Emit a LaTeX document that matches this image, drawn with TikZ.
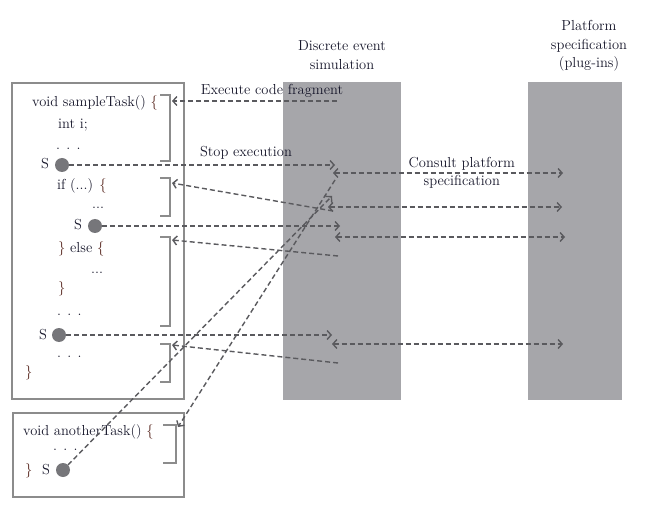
\documentclass[tikz,border=0pt]{standalone}
\usetikzlibrary{arrows.meta}

\definecolor{colgray}{HTML}{A6A6AA}
\definecolor{flowgray}{HTML}{5A5A5E}
\definecolor{dotgray}{HTML}{76767A}
\definecolor{boxgray}{HTML}{8C8C8C}
\definecolor{codeink}{HTML}{16162A}
\definecolor{braceink}{HTML}{5A2A22}

\begin{document}
\begin{tikzpicture}[x=1pt,y=-1pt]

\tikzset{
code/.style={anchor=base west,inner sep=0pt,text=codeink},
head/.style={align=center,text=codeink},
dot/.style={circle,fill=dotgray,minimum size=14pt,inner sep=0pt},
bracket/.style={draw=boxgray,line width=1.6pt},
codebox/.style={draw=boxgray,line width=1.1pt},
flow/.style={draw=flowgray,line width=1.4pt,dash pattern=on 5pt off 3pt,
  -{Straight Barb[length=4pt,width=9pt]}},
both/.style={flow,{Straight Barb[length=4pt,width=9pt]}-{Straight Barb[length=4pt,width=9pt]}},
font={\fontsize{14.5pt}{18.5pt}\selectfont}
}
\useasboundingbox (0,0) rectangle (655,510);

% columns
\fill[colgray] (283,82) rectangle (401,400);
\fill[colgray] (528,82) rectangle (622,400);
\node[head] (desname) at (342,55) {Discrete event\\simulation};
\node[head] (platname) at (589,46) {Platform\\specification\\(plug-ins)};

% code boxes
\draw[codebox] (12,83) rectangle (184,399);
\draw[codebox] (13,413) rectangle (184,497);

% sampleTask
\node[code] (l1) at (32,107) {void sampleTask() {\color{braceink}\{}};
\node[code] (l2) at (58,129) {int i;};
\node[code] (l3) at (56,150) {. . .};
\node[code] (ls1) at (41,169) {S};
\node[dot] (s1) at (62,165) {};
\node[code] (l4) at (57,190) {if (...) {\color{braceink}\{}};
\node[code] (l5) at (92,209) {...};
\node[code] (ls2) at (74,230) {S};
\node[dot] (s2) at (95,226) {};
\node[code] (l6) at (58,253) {{\color{braceink}\}} else {\color{braceink}\{}};
\node[code] (l7) at (91,273) {...};
\node[code] (l8) at (58,293) {{\color{braceink}\}}};
\node[code] (l9) at (57,315) {. . .};
\node[code] (ls3) at (39,339) {S};
\node[dot] (s3) at (59,335) {};
\node[code] (l10) at (57,357) {. . .};
\node[code] (l11) at (25,376) {{\color{braceink}\}}};

% anotherTask
\node[code] (m1) at (23,435) {void anotherTask() {\color{braceink}\{}};
\node[code] (m2) at (53,450) {. . .};
\node[code] (m3) at (25,474) {{\color{braceink}\}}};
\node[code] (ms) at (42,474) {S};
\node[dot] (s4) at (63,470) {};

% brackets
\draw[bracket] (160,95) -- (170,95) -- (170,161) -- (160,161);
\draw[bracket] (160,178) -- (170,178) -- (170,216) -- (160,216);
\draw[bracket] (160,237) -- (170,237) -- (170,326) -- (160,326);
\draw[bracket] (160,344) -- (170,344) -- (170,382) -- (160,382);
\draw[bracket] (163,425) -- (176,425) -- (176,463) -- (163,463);

% ends
\coordinate (br1) at (172,101);
\coordinate (br2) at (172,183);
\coordinate (br3) at (172,240);
\coordinate (br4) at (172,345);
\coordinate (br5) at (178,427);
\coordinate (des0) at (337,101);
\coordinate (des1) at (335,165);
\coordinate (des2) at (333,211);
\coordinate (des3) at (340,226);
\coordinate (des4) at (338,256);
\coordinate (des5) at (332,335);
\coordinate (des6) at (338,363);
\coordinate (des7) at (332,196);
\coordinate (des8) at (335,180);
\coordinate (ask1) at (333,173);
\coordinate (ask2) at (328,207);
\coordinate (ask3) at (335,237);
\coordinate (ask4) at (332,344);
\coordinate (plug1) at (563,173);
\coordinate (plug2) at (562,207);
\coordinate (plug3) at (565,237);
\coordinate (plug4) at (563,344);

%edges
\path
%   FROM     STYLE        LABEL                                              TO
(des0) edge[flow] node[pos=.394,above=2pt,inner sep=1pt,text=codeink] {Execute code fragment} (br1)
(s1)   edge[flow] node[pos=.665,above=4pt,inner sep=1pt,text=codeink] {Stop execution} (des1)
(des2) edge[flow]                                                              (br2)
(s2)   edge[flow]                                                              (des3)
(des4) edge[flow]                                                              (br3)
(s3)   edge[flow]                                                              (des5)
(des6) edge[flow]                                                              (br4)
(s4)   edge[flow]                                                              (des7)
(des8) edge[flow]                                                              (br5)

(ask1) edge[both] node[pos=.56,align=center,text=codeink] {Consult platform\\specification} (plug1)
(ask2) edge[both]                                                              (plug2)
(ask3) edge[both]                                                              (plug3)
(ask4) edge[both]                                                              (plug4)
;

\end{tikzpicture}
\end{document}
